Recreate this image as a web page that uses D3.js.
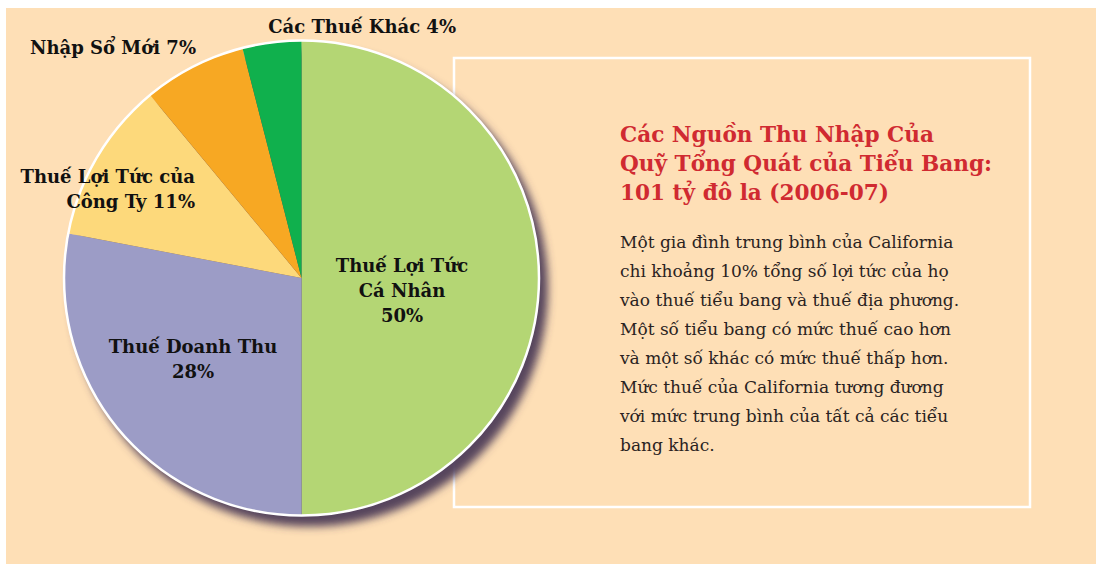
<!DOCTYPE html>
<html>
<head>
<meta charset="utf-8">
<script src="https://cdn.jsdelivr.net/npm/d3@7"></script>
<style>
  html, body { margin: 0; padding: 0; background: #ffffff; }
  svg { display: block; }
</style>
</head>
<body>
<div id="chart"><svg></svg></div>
<script>
// ---- data ----
const categories = ['Thuế Lợi Tức Cá Nhân', 'Thuế Doanh Thu', 'Thuế Lợi Tức của Công Ty', 'Nhập Sổ Mới', 'Các Thuế Khác']
const shares = [50, 28, 11, 7, 4]
const sliceColors = ['#b4d674', '#9c9cc6', '#fdd97b', '#f7a823', '#10b04d']

// label lines for each slice (same order as categories)
const labelLines = [
  ['Thuế Lợi Tức', 'Cá Nhân', '50%'],
  ['Thuế Doanh Thu', '28%'],
  ['Thuế Lợi Tức của', 'Công Ty 11%'],
  ['Nhập Sổ Mới 7%'],
  ['Các Thuế Khác 4%']
]

const titleLines = ['Các Nguồn Thu Nhập Của', 'Quỹ Tổng Quát của Tiểu Bang:', '101 tỷ đô la (2006-07)']
const bodyLines = [
  'Một gia đình trung bình của California',
  'chi khoảng 10% tổng số lợi tức của họ',
  'vào thuế tiểu bang và thuế địa phương.',
  'Một số tiểu bang có mức thuế cao hơn',
  'và một số khác có mức thuế thấp hơn.',
  'Mức thuế của California tương đương',
  'với mức trung bình của tất cả các tiểu',
  'bang khác.'
]

// ---- layout ----
const width = 1096
const height = 564
const cx = 301.5
const cy = 278
const radius = 237

const svg = d3.select('#chart').select('svg')
  .attr('width', width)
  .attr('height', height)

// peach background
svg.append('rect')
  .attr('x', 6)
  .attr('y', 8)
  .attr('width', width - 6)
  .attr('height', height - 8)
  .attr('fill', '#fedfb6')

// text box frame
svg.append('rect')
  .attr('x', 454)
  .attr('y', 58)
  .attr('width', 576)
  .attr('height', 449)
  .attr('fill', 'none')
  .attr('stroke', '#ffffff')
  .attr('stroke-width', 2.5)

// drop shadow for the pie
const defs = svg.append('defs')
const shadow = defs.append('filter')
  .attr('id', 'pie-shadow')
  .attr('x', '-20%').attr('y', '-20%')
  .attr('width', '140%').attr('height', '140%')
shadow.append('feGaussianBlur')
  .attr('in', 'SourceAlpha')
  .attr('stdDeviation', 4.5)
  .attr('result', 'blur')
shadow.append('feOffset')
  .attr('in', 'blur')
  .attr('dx', 8)
  .attr('dy', 10)
  .attr('result', 'off')
shadow.append('feFlood')
  .attr('flood-color', '#4e3d58')
  .attr('flood-opacity', 0.95)
shadow.append('feComposite')
  .attr('in2', 'off')
  .attr('operator', 'in')

const g = svg.append('g')
  .attr('transform', 'translate(' + cx + ',' + cy + ')')

g.append('circle')
  .attr('r', radius + 1.5)
  .attr('fill', '#000')
  .attr('filter', 'url(#pie-shadow)')

const pie = d3.pie().sort(null).value(d => d)
const arc = d3.arc().innerRadius(0).outerRadius(radius)
const color = d3.scaleOrdinal().domain(categories).range(sliceColors)

const arcs = pie(shares)

g.selectAll('path.slice')
  .data(arcs)
  .enter()
  .append('path')
  .attr('class', 'slice')
  .attr('d', arc)
  .attr('fill', (d, i) => color(categories[i]))

// white rim
g.append('circle')
  .attr('r', radius + 0.5)
  .attr('fill', 'none')
  .attr('stroke', '#ffffff')
  .attr('stroke-width', 2.5)

// ---- slice labels ----
// anchor, alignment for each label block
const labelPos = [
  { x: 402, y: 272, anchor: 'middle' },
  { x: 193, y: 353, anchor: 'middle' },
  { x: 195, y: 183, anchor: 'end' },
  { x: 196, y: 54, anchor: 'end' },
  { x: 456, y: 33, anchor: 'end' }
]

labelLines.forEach((lines, i) => {
  const t = svg.append('text')
    .attr('font-family', 'DejaVu Serif')
    .attr('font-weight', 'bold')
    .attr('font-size', 18)
    .attr('fill', '#111111')
    .attr('text-anchor', labelPos[i].anchor)
  lines.forEach((line, j) => {
    t.append('tspan')
      .attr('x', labelPos[i].x)
      .attr('y', labelPos[i].y + j * 25)
      .text(line)
  })
})

// ---- title and body text ----
const title = svg.append('text')
  .attr('font-family', 'DejaVu Serif')
  .attr('font-weight', 'bold')
  .attr('font-size', 21.6)
  .attr('fill', '#d02a31')
titleLines.forEach((line, j) => {
  title.append('tspan')
    .attr('x', 620)
    .attr('y', 142 + j * 29)
    .text(line)
})

const body = svg.append('text')
  .attr('font-family', 'DejaVu Serif')
  .attr('font-size', 17)
  .attr('fill', '#2a231f')
bodyLines.forEach((line, j) => {
  body.append('tspan')
    .attr('x', 620)
    .attr('y', 248 + j * 29)
    .text(line)
})
</script>
</body>
</html>
